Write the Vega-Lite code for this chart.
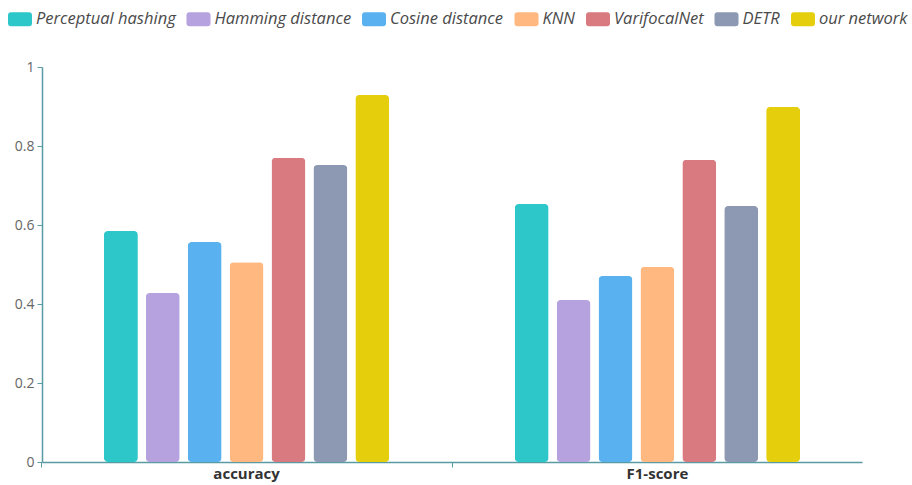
{
  "$schema": "https://vega.github.io/schema/vega-lite/v6.json",
  "autosize": "none",
  "width": 820,
  "height": 395,
  "padding": {"left": 42, "top": 67, "right": 50, "bottom": 23},
  "background": "white",
  "config": {
    "font": "Open Sans",
    "view": {"stroke": null}
  },
  "data": {
    "values": [
      {"metric": "accuracy", "method": "Perceptual hashing", "value": 0.585},
      {"metric": "accuracy", "method": "Hamming distance", "value": 0.428},
      {"metric": "accuracy", "method": "Cosine distance", "value": 0.557},
      {"metric": "accuracy", "method": "KNN", "value": 0.506},
      {"metric": "accuracy", "method": "VarifocalNet", "value": 0.770},
      {"metric": "accuracy", "method": "DETR", "value": 0.752},
      {"metric": "accuracy", "method": "our network", "value": 0.929},
      {"metric": "F1-score", "method": "Perceptual hashing", "value": 0.653},
      {"metric": "F1-score", "method": "Hamming distance", "value": 0.410},
      {"metric": "F1-score", "method": "Cosine distance", "value": 0.471},
      {"metric": "F1-score", "method": "KNN", "value": 0.494},
      {"metric": "F1-score", "method": "VarifocalNet", "value": 0.765},
      {"metric": "F1-score", "method": "DETR", "value": 0.648},
      {"metric": "F1-score", "method": "our network", "value": 0.899}
    ]
  },
  "mark": {"type": "bar", "cornerRadius": 4},
  "encoding": {
    "x": {
      "field": "metric",
      "type": "nominal",
      "sort": ["accuracy", "F1-score"],
      "scale": {"paddingInner": 0.286, "paddingOuter": 0.141},
      "axis": {
        "title": null,
        "labelAngle": 0,
        "labelFontWeight": "bold",
        "labelFontSize": 15,
        "labelColor": "#333",
        "labelPadding": -1,
        "bandPosition": -0.2,
        "domainColor": "#5a9aa3",
        "domainWidth": 1.5,
        "tickColor": "#5a9aa3",
        "tickSize": 5,
        "ticks": true
      }
    },
    "xOffset": {
      "field": "method",
      "type": "nominal",
      "sort": ["Perceptual hashing", "Hamming distance", "Cosine distance", "KNN", "VarifocalNet", "DETR", "our network"],
      "scale": {"paddingInner": 0.19, "paddingOuter": 0.095}
    },
    "y": {
      "field": "value",
      "type": "quantitative",
      "scale": {"domain": [0, 1]},
      "axis": {
        "title": null,
        "grid": false,
        "values": [0, 0.2, 0.4, 0.6, 0.8, 1],
        "format": ".1~f",
        "labelFontSize": 14,
        "labelColor": "#666",
        "domainColor": "#5a9aa3",
        "domainWidth": 1.5,
        "tickColor": "#5a9aa3",
        "tickSize": 5,
        "labelPadding": 3
      }
    },
    "color": {
      "field": "method",
      "type": "nominal",
      "sort": ["Perceptual hashing", "Hamming distance", "Cosine distance", "KNN", "VarifocalNet", "DETR", "our network"],
      "scale": {
        "domain": ["Perceptual hashing", "Hamming distance", "Cosine distance", "KNN", "VarifocalNet", "DETR", "our network"],
        "range": ["#2ec7c9", "#b6a2de", "#5ab1ef", "#ffb980", "#d87a80", "#8d98b3", "#e5cf0d"]
      },
      "legend": {
        "title": null,
        "orient": "none",
        "legendX": -34,
        "legendY": -60,
        "direction": "horizontal",
        "columns": 7,
        "symbolType": "M-0.75,-0.58H0.75Q1,-0.58,1,-0.33V0.33Q1,0.58,0.75,0.58H-0.75Q-1,0.58,-1,0.33V-0.33Q-1,-0.58,-0.75,-0.58Z",
        "symbolSize": 576,
        "symbolStrokeWidth": 0,
        "symbolOpacity": 1,
        "labelFontSize": 16.5,
        "labelFontStyle": "italic",
        "labelColor": "#4a4a4a",
        "labelOffset": 4,
        "columnPadding": 10.5,
        "labelLimit": 300
      }
    }
  }
}
